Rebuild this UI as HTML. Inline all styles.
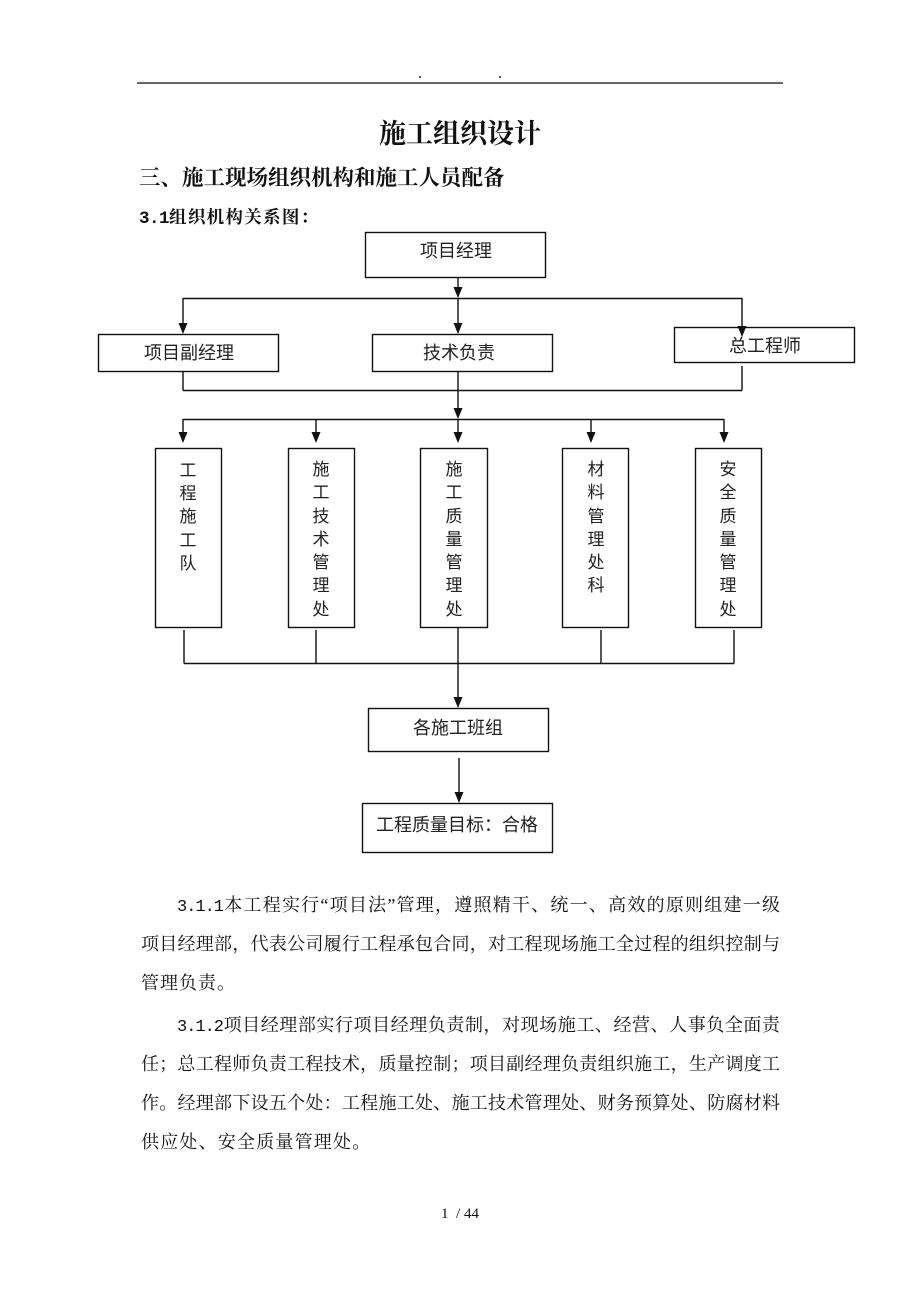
<!DOCTYPE html>
<html><head><meta charset="utf-8">
<style>
html,body{margin:0;padding:0;background:#fff;}
body{width:920px;height:1302px;position:relative;overflow:hidden;font-family:"Liberation Serif","Noto Serif CJK SC",serif;color:#111;}
.abs{position:absolute;}
.title{left:0;width:920px;top:115px;text-align:center;font-size:27px;font-weight:bold;line-height:38px;letter-spacing:0px;}
.h2{left:139px;top:163px;font-size:21.5px;font-weight:bold;line-height:30px;white-space:nowrap;}
.h3{left:139px;top:204px;font-size:17.5px;font-weight:bold;line-height:26px;white-space:nowrap;letter-spacing:1.3px;}
.ln{position:absolute;font-size:18px;line-height:24px;height:24px;overflow:visible;}
.j{text-align:justify;text-align-last:justify;}
.num{font-family:"Liberation Mono",monospace;font-size:17px;letter-spacing:-1px;}
.foot{left:0;width:920px;top:1204px;text-align:center;font-size:15px;font-family:"Liberation Serif",serif;line-height:20px;}
svg{position:absolute;left:0;top:0;}
svg text{font-family:"Liberation Sans","Noto Sans CJK SC",sans-serif;fill:#222;}
</style></head><body>

<svg width="920" height="1302" viewBox="0 0 920 1302">
  <!-- header -->
  <line x1="137" y1="83" x2="783" y2="83" stroke="#333" stroke-width="1.5"/>
  <rect x="419" y="76" width="2" height="2" fill="#555"/>
  <rect x="499" y="76" width="2" height="2" fill="#555"/>

  <g stroke="#111" stroke-width="1.4" fill="none">
    <!-- boxes -->
    <rect x="365.5" y="232.5" width="180" height="45"/>
    <rect x="98.5" y="334.5" width="180" height="37"/>
    <rect x="372.5" y="334.5" width="180" height="37"/>
    <rect x="674.5" y="327.5" width="180" height="35"/>
    <rect x="155.5" y="448.5" width="66" height="179"/>
    <rect x="288.5" y="448.5" width="66" height="179"/>
    <rect x="420.5" y="448.5" width="67" height="179"/>
    <rect x="562.5" y="448.5" width="66" height="179"/>
    <rect x="695.5" y="448.5" width="66" height="179"/>
    <rect x="368.5" y="708.5" width="180" height="43"/>
    <rect x="362.5" y="803.5" width="190" height="49"/>

    <!-- connectors -->
    <line x1="458" y1="277" x2="458" y2="290"/>
    <line x1="183" y1="298.5" x2="742" y2="298.5"/>
    <line x1="183" y1="298" x2="183" y2="326"/>
    <line x1="458" y1="298" x2="458" y2="326"/>
    <line x1="742" y1="298" x2="742" y2="329"/>

    <line x1="183" y1="372" x2="183" y2="390.5"/>
    <line x1="742" y1="366" x2="742" y2="390.5"/>
    <line x1="183" y1="390.5" x2="742" y2="390.5"/>
    <line x1="458" y1="372" x2="458" y2="411"/>

    <line x1="183" y1="419.5" x2="724" y2="419.5"/>
    <line x1="183" y1="419" x2="183" y2="435"/>
    <line x1="316" y1="419" x2="316" y2="435"/>
    <line x1="458" y1="419" x2="458" y2="435"/>
    <line x1="591" y1="419" x2="591" y2="435"/>
    <line x1="724" y1="419" x2="724" y2="435"/>

    <line x1="184" y1="630" x2="184" y2="663.5"/>
    <line x1="316" y1="630" x2="316" y2="663.5"/>
    <line x1="601" y1="630" x2="601" y2="663.5"/>
    <line x1="734" y1="630" x2="734" y2="663.5"/>
    <line x1="184" y1="663.5" x2="734" y2="663.5"/>
    <line x1="458" y1="628" x2="458" y2="700"/>

    <line x1="459" y1="758" x2="459" y2="795"/>
  </g>

  <!-- arrowheads -->
  <g fill="#111">
    <polygon points="453.5,287 462.5,287 458,298"/>
    <polygon points="178.5,323 187.5,323 183,334"/>
    <polygon points="453.5,323 462.5,323 458,334"/>
    <polygon points="737.5,326 746.5,326 742,337"/>
    <polygon points="453.5,408 462.5,408 458,419"/>
    <polygon points="178.5,432 187.5,432 183,443"/>
    <polygon points="311.5,432 320.5,432 316,443"/>
    <polygon points="453.5,432 462.5,432 458,443"/>
    <polygon points="586.5,432 595.5,432 591,443"/>
    <polygon points="719.5,432 728.5,432 724,443"/>
    <polygon points="453.5,697 462.5,697 458,708"/>
    <polygon points="454.5,792 463.5,792 459,803"/>
  </g>

  <!-- labels -->
  <g font-size="18" text-anchor="middle">
    <text x="456" y="257">项目经理</text>
    <text x="189" y="359">项目副经理</text>
    <text x="459" y="359">技术负责</text>
    <text x="765" y="352">总工程师</text>
    <text x="458" y="734">各施工班组</text>
    <text x="457" y="831">工程质量目标：合格</text>
  </g>
  <g font-size="17" text-anchor="middle">
    <text x="188" y="476">工</text><text x="188" y="499">程</text><text x="188" y="522">施</text><text x="188" y="546">工</text><text x="188" y="569">队</text>
    <text x="321" y="475">施</text><text x="321" y="498">工</text><text x="321" y="522">技</text><text x="321" y="545">术</text><text x="321" y="568">管</text><text x="321" y="591">理</text><text x="321" y="615">处</text>
    <text x="454" y="475">施</text><text x="454" y="498">工</text><text x="454" y="522">质</text><text x="454" y="545">量</text><text x="454" y="568">管</text><text x="454" y="591">理</text><text x="454" y="615">处</text>
    <text x="596" y="475">材</text><text x="596" y="498">料</text><text x="596" y="522">管</text><text x="596" y="545">理</text><text x="596" y="568">处</text><text x="596" y="591">科</text>
    <text x="728" y="475">安</text><text x="728" y="498">全</text><text x="728" y="522">质</text><text x="728" y="545">量</text><text x="728" y="568">管</text><text x="728" y="591">理</text><text x="728" y="615">处</text>
  </g>
</svg>

<div class="abs title">施工组织设计</div>
<div class="abs h2">三、施工现场组织机构和施工人员配备</div>
<div class="abs h3"><span style="font-family:'Liberation Mono',monospace;letter-spacing:-0.5px;">3.1</span>组织机构关系图：</div>

<div class="ln j" style="left:177px;width:603px;top:893px;"><span class="num">3.1.1</span>本工程实行“项目法”管理，遵照精干、统一、高效的原则组建一级</div>
<div class="ln j" style="left:141px;width:639px;top:932px;">项目经理部，代表公司履行工程承包合同，对工程现场施工全过程的组织控制与</div>
<div class="ln" style="left:141px;top:971px;letter-spacing:1px;">管理负责。</div>

<div class="ln j" style="left:177px;width:603px;top:1013px;"><span class="num">3.1.2</span>项目经理部实行项目经理负责制，对现场施工、经营、人事负全面责</div>
<div class="ln j" style="left:141px;width:639px;top:1052px;">任；总工程师负责工程技术，质量控制；项目副经理负责组织施工，生产调度工</div>
<div class="ln j" style="left:141px;width:639px;top:1091px;">作。经理部下设五个处：工程施工处、施工技术管理处、财务预算处、防腐材料</div>
<div class="ln" style="left:141px;top:1130px;letter-spacing:1.2px;">供应处、安全质量管理处。</div>

<div class="abs foot">1&nbsp;&nbsp;/ 44</div>
</body></html>
